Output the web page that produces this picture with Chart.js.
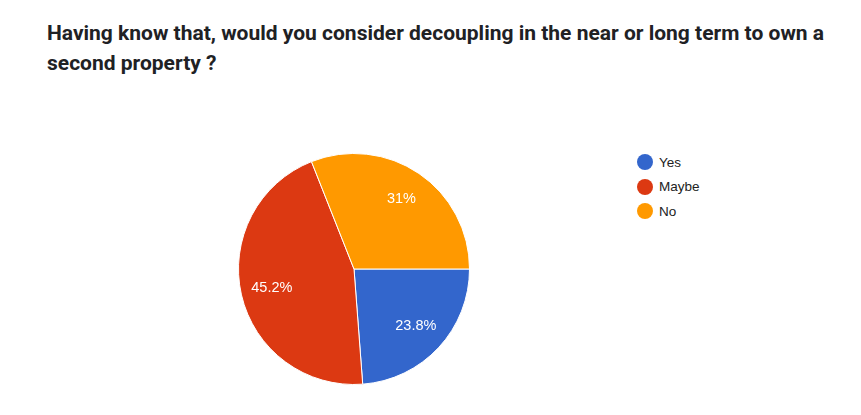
<!DOCTYPE html>
<html>
<head>
<meta charset="utf-8">
<script src="https://cdn.jsdelivr.net/npm/chart.js@4"></script>
<style>
  html, body { margin: 0; padding: 0; background: #fff; }
  body { width: 861px; height: 415px; position: relative; overflow: hidden; }
  #titulo {
    position: absolute; left: 47px; top: 18px; width: 805px;
    font: bold 21px Roboto, sans-serif; line-height: 30px; color: #202124;
  }
  #pizza { position: absolute; left: 238px; top: 153px; width: 232px; height: 232px; }
  #legenda { position: absolute; left: 637px; top: 150px; font: 13.5px "Liberation Sans", Arial, sans-serif; color: #222; }
  .item { height: 24.5px; display: flex; align-items: center; }
  .bola { width: 16px; height: 16px; border-radius: 50%; margin-right: 6px; }
</style>
</head>
<body>
<div id="titulo">Having know that, would you consider decoupling in the near or long term to own a second property ?</div>
<div id="pizza"><canvas id="grafico"></canvas></div>
<div id="legenda"></div>
<script>
const categorias = ['Yes', 'Maybe', 'No'];
const percentuais = [23.8, 45.2, 31];
const rotulos = ['23.8%', '45.2%', '31%'];
const cores = ['#3366cc', '#dc3912', '#ff9900'];

// rotulos brancos dentro das fatias, como no Google Forms
const pluginRotulos = {
  id: 'rotulos',
  afterDatasetsDraw(chart) {
    const ctx = chart.ctx;
    const meta = chart.getDatasetMeta(0);
    ctx.save();
    ctx.fillStyle = '#fff';
    ctx.font = '14.5px "Liberation Sans", Arial, sans-serif';
    ctx.textAlign = 'center';
    ctx.textBaseline = 'middle';
    meta.data.forEach((arco, i) => {
      const p = arco.getProps(['x', 'y', 'startAngle', 'endAngle', 'outerRadius'], true);
      const meio = (p.startAngle + p.endAngle) / 2;
      const r = p.outerRadius * 0.73;
      ctx.fillText(rotulos[i], p.x + Math.cos(meio) * r, p.y + Math.sin(meio) * r);
    });
    ctx.restore();
  }
};

new Chart(document.getElementById('grafico'), {
  type: 'pie',
  data: { labels: categorias, datasets: [{ data: percentuais, backgroundColor: cores, borderColor: '#fff', borderWidth: 1 }] },
  options: {
    responsive: true, maintainAspectRatio: false, animation: false,
    rotation: 90,
    layout: { padding: 0 },
    plugins: { legend: { display: false }, tooltip: { enabled: false } }
  },
  plugins: [pluginRotulos]
});

const legenda = document.getElementById('legenda');
categorias.forEach((c, i) => {
  const item = document.createElement('div');
  item.className = 'item';
  item.innerHTML = '<span class="bola" style="background:' + cores[i] + '"></span>' + c;
  legenda.appendChild(item);
});
</script>
</body>
</html>
